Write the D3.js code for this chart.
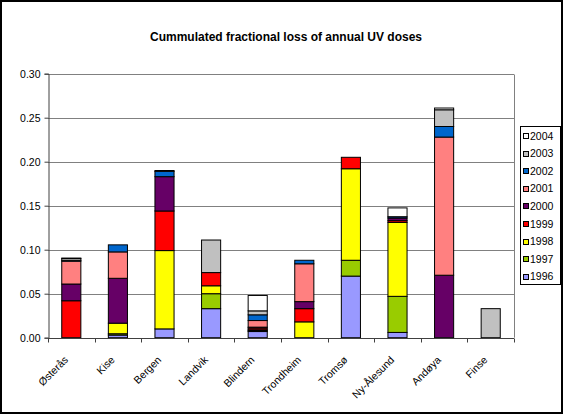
<!DOCTYPE html>
<html>
<head>
<meta charset="utf-8">
<script src="https://cdn.jsdelivr.net/npm/d3@7"></script>
<style>
  html, body { margin: 0; padding: 0; background: #fff; }
  svg { display: block; font-family: "Liberation Sans", Arial, sans-serif; }
</style>
</head>
<body>
<svg id="chart" width="563" height="414"></svg>
<script>
// Stations along the x axis
const sites = ["Østerås", "Kise", "Bergen", "Landvik", "Blindern", "Trondheim", "Tromsø", "Ny-Ålesund", "Andøya", "Finse"];

// Years stacked in each bar (bottom to top)
const years = ["1996", "1997", "1998", "1999", "2000", "2001", "2002", "2003", "2004"];

// Fractional loss per year, one value per station
const loss1996 = [0, 0.003, 0.010, 0.033, 0.007, 0, 0.070, 0.006, 0, 0];
const loss1997 = [0, 0.0015, 0, 0.017, 0.001, 0, 0.018, 0.041, 0, 0];
const loss1998 = [0, 0.012, 0.089, 0.009, 0.001, 0.018, 0.104, 0.084, 0, 0];
const loss1999 = [0.042, 0, 0.045, 0.015, 0.002, 0.015, 0.013, 0.002, 0, 0];
const loss2000 = [0.019, 0.051, 0.039, 0, 0.001, 0.008, 0, 0.003, 0.071, 0];
const loss2001 = [0.026, 0.030, 0, 0, 0.0075, 0.043, 0, 0, 0.157, 0];
const loss2002 = [0.001, 0.008, 0.006, 0, 0.0065, 0.004, 0, 0.0015, 0.012, 0];
const loss2003 = [0.002, 0, 0.001, 0.037, 0.0045, 0, 0, 0, 0.019, 0.033];
const loss2004 = [0.0005, 0, 0, 0, 0.0175, 0, 0, 0.010, 0.002, 0];

const yTicks = [0, 0.05, 0.10, 0.15, 0.20, 0.25, 0.30];

const colors = ["#9999FF", "#99CC00", "#FFFF00", "#FF0000", "#660066", "#FF8080", "#0066CC", "#C0C0C0", "#FFFFFF"];

const seriesByYear = [loss1996, loss1997, loss1998, loss1999, loss2000, loss2001, loss2002, loss2003, loss2004];

// Table of rows for d3.stack
const rows = sites.map((s, i) => {
  const r = { site: s };
  years.forEach((y, k) => { r[y] = seriesByYear[k][i]; });
  return r;
});

const svg = d3.select("#chart");
const W = 563, H = 414;

// Outer frame
svg.append("rect")
  .attr("x", 1).attr("y", 1).attr("width", W - 2).attr("height", H - 2)
  .attr("fill", "#fff").attr("stroke", "#000").attr("stroke-width", 2);

const plot = { left: 48, right: 514, top: 73.7, bottom: 337.7 };

const x = d3.scaleBand().domain(sites).range([plot.left, plot.right]).padding(0);
const y = d3.scaleLinear().domain([0, 0.3]).range([plot.bottom, plot.top]);

// Title
svg.append("text")
  .attr("x", 286).attr("y", 41)
  .attr("text-anchor", "middle")
  .attr("font-size", 12).attr("font-weight", "bold")
  .text("Cummulated fractional loss of annual UV doses");

// Gridlines
svg.append("g").selectAll("line").data(yTicks.slice(1)).join("line")
  .attr("x1", plot.left).attr("x2", plot.right)
  .attr("y1", d => Math.round(y(d)) + 0.5).attr("y2", d => Math.round(y(d)) + 0.5)
  .attr("stroke", "#808080").attr("stroke-width", 1);

// Right border of plot area
svg.append("line")
  .attr("x1", plot.right + 0.5).attr("x2", plot.right + 0.5)
  .attr("y1", Math.round(y(0.3)) + 0.5).attr("y2", plot.bottom)
  .attr("stroke", "#808080");

// Stacked bars
const stack = d3.stack().keys(years);
const layers = stack(rows);
const barW = x.bandwidth() * 0.41;

svg.append("g").selectAll("g").data(layers).join("g")
  .attr("fill", (d, i) => colors[i])
  .selectAll("rect").data(d => d.filter(p => p[1] - p[0] > 0)).join("rect")
  .attr("x", d => x(d.data.site) + (x.bandwidth() - barW) / 2)
  .attr("y", d => y(d[1]))
  .attr("width", barW)
  .attr("height", d => y(d[0]) - y(d[1]))
  .attr("stroke", "#000").attr("stroke-width", 1);

// Y axis
const yAxis = d3.axisLeft(y).tickValues(yTicks).tickFormat(d3.format(".2f")).tickSize(4).tickPadding(4);
const gy = svg.append("g").attr("transform", `translate(${plot.left + 0.5},0)`).call(yAxis);
gy.select(".domain").attr("stroke", "#404040");
gy.selectAll(".tick line").attr("stroke", "#404040");
gy.selectAll(".tick text").attr("font-size", 10.5).attr("font-family", "Liberation Sans, Arial, sans-serif").attr("fill", "#000");

// X axis: tick marks at category boundaries
const gx = svg.append("g").attr("transform", `translate(0,${Math.round(plot.bottom) + 0.5})`);
gx.append("line").attr("x1", plot.left).attr("x2", plot.right).attr("stroke", "#404040");
const bounds = sites.map(s => x(s)).concat([plot.right]);
gx.selectAll("line.tk").data(bounds).join("line").attr("class", "tk")
  .attr("x1", d => Math.round(d) + 0.5).attr("x2", d => Math.round(d) + 0.5)
  .attr("y1", 0).attr("y2", 4).attr("stroke", "#404040");

// Rotated category labels
gx.selectAll("text").data(sites).join("text")
  .attr("transform", d => `translate(${x(d) + x.bandwidth() / 2 - 2.5},${22}) rotate(-45)`)
  .attr("text-anchor", "end")
  .attr("font-size", 10.5)
  .text(d => d);

// Legend
const lg = svg.append("g");
lg.append("rect")
  .attr("x", 520.5).attr("y", 126.5).attr("width", 40).attr("height", 158)
  .attr("fill", "#fff").attr("stroke", "#000");
const legendYears = years.slice().reverse();
const legendColors = colors.slice().reverse();
legendYears.forEach((yr, i) => {
  const cy = 136 + i * 17.6;
  lg.append("rect")
    .attr("x", 523.5).attr("y", Math.round(cy - 3) + 0.5).attr("width", 5).attr("height", 5)
    .attr("fill", legendColors[i]).attr("stroke", "#000");
  lg.append("text")
    .attr("x", 530).attr("y", cy + 3.5)
    .attr("font-size", 10.5)
    .text(yr);
});
</script>
</body>
</html>
